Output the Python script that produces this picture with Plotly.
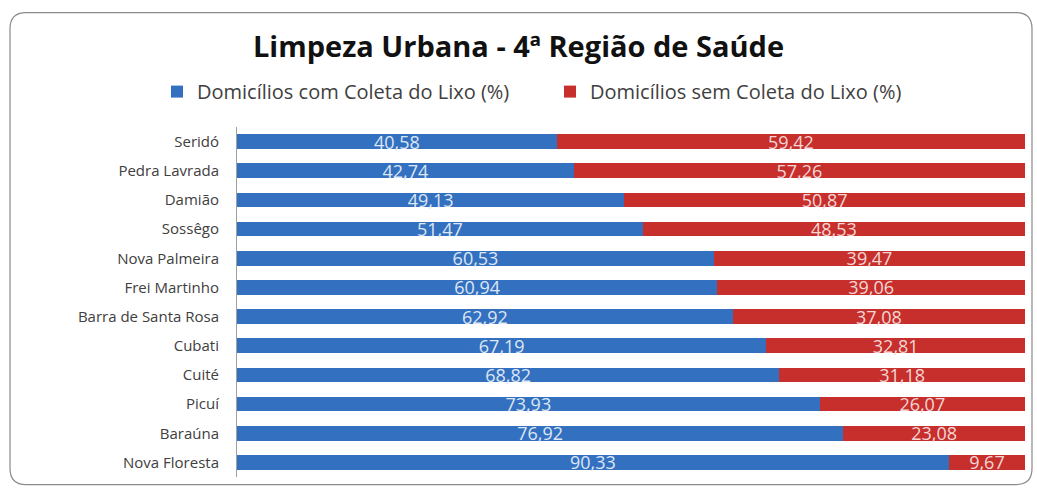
import plotly.graph_objects as go

categories = ["Seridó", "Pedra Lavrada", "Damião", "Sossêgo", "Nova Palmeira",
              "Frei Martinho", "Barra de Santa Rosa", "Cubati", "Cuité", "Picuí",
              "Baraúna", "Nova Floresta"]
com_coleta = [40.58, 42.74, 49.13, 51.47, 60.53, 60.94, 62.92, 67.19, 68.82, 73.93, 76.92, 90.33]
sem_coleta = [59.42, 57.26, 50.87, 48.53, 39.47, 39.06, 37.08, 32.81, 31.18, 26.07, 23.08, 9.67]
series_names = ["Domicílios com Coleta do Lixo (%)", "Domicílios sem Coleta do Lixo (%)"]

FONT = "Open Sans"
BLUE = "#3470C0"
RED = "#C62F2C"

fig = go.Figure()
for name, vals, col, tcol in [(series_names[0], com_coleta, BLUE, "#DCE6F5"),
                              (series_names[1], sem_coleta, RED, "#F5D6D4")]:
    fig.add_trace(go.Bar(
        y=categories, x=vals, name=name, orientation="h",
        marker=dict(color=col, line=dict(width=0)),
        texttemplate="%{x:.2f}", textposition="inside", insidetextanchor="middle",
        constraintext="none",
        textfont=dict(family=FONT, size=18, color=tcol),
    ))

# rounded chart border (paper coords)
px0, px1, pt, pb = 237, 1025, 127.4, 477.4
W, H = px1 - px0, pb - pt
def fx(p): return (p - px0) / W
def fy(p): return (pb - p) / H
x0, x1, y0, y1 = fx(10), fx(1032), fy(485), fy(13)
rx, ry = 16 / W, 16 / H
path = (f"M {x0+rx},{y1} L {x1-rx},{y1} Q {x1},{y1} {x1},{y1-ry} "
        f"L {x1},{y0+ry} Q {x1},{y0} {x1-rx},{y0} L {x0+rx},{y0} "
        f"Q {x0},{y0} {x0},{y0+ry} L {x0},{y1-ry} Q {x0},{y1} {x0+rx},{y1} Z")

fig.update_layout(
    width=1037, height=488,
    barmode="stack", bargap=0.5,
    separators=",.",
    paper_bgcolor="white", plot_bgcolor="white",
    margin=dict(l=237, r=12, t=127, b=11),
    title=dict(text="<b>Limpeza Urbana - 4ª Região de Saúde</b>", x=0.5, xanchor="center",
               y=1 - 47 / 488, yanchor="middle",
               font=dict(family=FONT, size=29, color="#111111")),
    legend=dict(orientation="h", x=fx(157), xanchor="left", y=fy(92), yanchor="middle",
                entrywidth=348, entrywidthmode="pixels", traceorder="normal",
                font=dict(family=FONT, size=20, color="#404040"), bgcolor="rgba(0,0,0,0)"),
    xaxis=dict(range=[0, 100], showgrid=False, showticklabels=False, zeroline=False,
               showline=False, fixedrange=True),
    yaxis=dict(autorange="reversed", showgrid=False, showline=True, linecolor="#A0A0A0",
               linewidth=1, ticks="", ticklabelstandoff=14,
               tickfont=dict(family=FONT, size=15, color="#404040")),
    shapes=[dict(type="path", path=path, xref="paper", yref="paper",
                 line=dict(color="#8A8A8A", width=1.2), layer="below")],
    showlegend=True,
)

fig.write_html("out.html", config={"displayModeBar": False},
               post_script="document.body.style.margin='0';")
